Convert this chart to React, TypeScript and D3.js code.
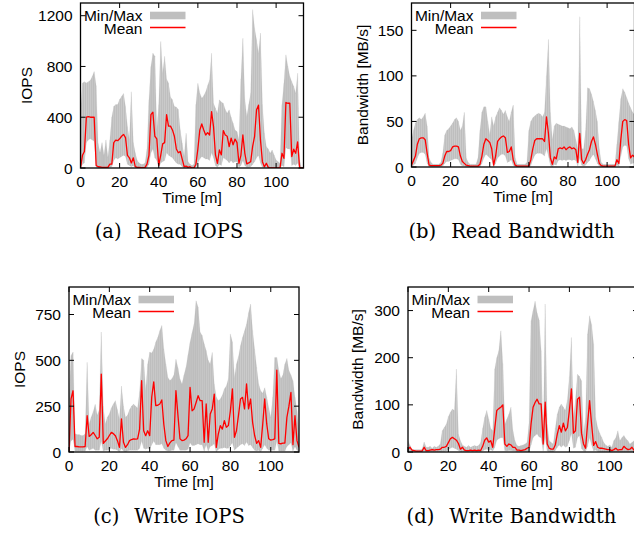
import React from "react";
import * as d3 from "d3";

// time axis in minutes, one sample per minute
const xTicks = [0, 20, 40, 60, 80, 100];
const xMax = 114;

// (a) Read IOPS
const readIopsMean = [
  0, 100, 130, 400, 405, 400, 400, 400, 20, 10,
  8, 5, 5, 5, 5, 30, 30, 200, 220, 215,
  230, 250, 265, 240, 100, 80, 40, 80, 10, 5,
  5, 3, 3, 5, 30, 100, 420, 440, 250, 230,
  20, 100, 190, 200, 420, 330, 330, 300, 250, 150,
  120, 130, 70, 10, 15, 5, 10, 0, 0, 30,
  150, 300, 347, 300, 260, 279, 260, 444, 326, 103,
  37, 142, 103, 295, 260, 250, 168, 236, 182, 228,
  200, 37, 100, 260, 116, 32, 40, 50, 170, 250,
  458, 495, 221, 50, 10, 37, 5, 0, 0, 0,
  0, 0, 0, 116, 76, 516, 510, 510, 90, 148,
  116, 205, 5, 0, 0,
];
const readIopsMax = [
  450, 670, 680, 670, 680, 690, 720, 760, 650, 195,
  120, 200, 100, 221, 80, 221, 400, 484, 500, 500,
  540, 563, 587, 484, 326, 221, 600, 200, 120, 60,
  40, 30, 30, 40, 150, 537, 800, 905, 880, 300,
  500, 997, 747, 880, 700, 670, 560, 537, 484, 480,
  460, 300, 195, 90, 274, 50, 30, 20, 30, 500,
  668, 589, 550, 570, 600, 650, 694, 905, 510, 470,
  431, 537, 520, 510, 460, 431, 458, 400, 352, 300,
  287, 221, 700, 1023, 537, 405, 500, 589, 1247, 1100,
  1010, 905, 1063, 500, 274, 168, 150, 116, 142, 100,
  63, 50, 37, 500, 668, 892, 800, 720, 680, 642,
  589, 747, 63, 0, 0,
];
const readIopsMin = [
  0, 30, 40, 200, 220, 230, 220, 210, 5, 0,
  0, 0, 0, 0, 0, 5, 10, 60, 80, 70,
  80, 90, 100, 90, 30, 20, 10, 20, 0, 0,
  0, 0, 0, 0, 5, 30, 120, 150, 80, 60,
  0, 40, 50, 60, 120, 100, 90, 80, 60, 40,
  30, 30, 10, 0, 0, 0, 0, 0, 0, 5,
  40, 70, 90, 80, 70, 70, 60, 120, 80, 20,
  5, 30, 20, 80, 70, 60, 40, 60, 40, 50,
  50, 5, 20, 60, 20, 5, 5, 10, 30, 50,
  80, 100, 40, 5, 0, 5, 0, 0, 0, 0,
  0, 0, 0, 20, 10, 160, 150, 150, 20, 30,
  20, 40, 0, 0, 0,
];

// (b) Read Bandwidth
const readBwMean = [
  2, 7, 12, 25, 31, 32, 32, 30, 15, 2,
  1.5, 1.5, 1.5, 1.5, 1.5, 2, 4, 12, 17, 17,
  18, 22, 23, 23, 22, 12, 6, 4, 2, 1.5,
  1, 1, 1, 1, 1, 3, 12, 25, 31, 29,
  27, 20, 2, 12, 28, 31, 33, 34, 32, 16,
  17, 22, 8, 2, 1, 1, 1, 1, 1, 1,
  1, 8, 20, 29, 31, 31, 31, 31, 28, 55,
  37, 10, 3, 11, 9, 20, 21, 20, 22, 19,
  21, 22, 20, 21, 19, 5, 37, 8, 4, 8,
  14, 19, 28, 33, 25, 14, 4, 1.5, 1, 1,
  1, 1, 1, 1, 1, 8, 4, 30, 50, 52,
  51, 25, 10, 13, 11,
];
const readBwMax = [
  30, 40, 48, 52, 54, 52, 55, 59, 45, 10,
  5, 3, 3, 3, 3, 5, 15, 35, 40, 42,
  45, 48, 52, 54, 50, 40, 45, 60, 10, 5,
  3, 3, 3, 3, 10, 40, 60, 66, 66, 50,
  35, 55, 45, 55, 60, 65, 62, 58, 62, 55,
  50, 60, 68, 10, 3, 3, 3, 3, 3, 5,
  40, 50, 54, 56, 58, 59, 58, 55, 60, 100,
  140, 60, 30, 45, 48, 47, 46, 45, 45, 44,
  43, 42, 44, 40, 30, 20, 165, 20, 20, 40,
  87, 86, 80, 72, 62, 50, 20, 5, 3, 3,
  3, 3, 3, 3, 3, 25, 50, 75, 86, 82,
  76, 70, 65, 60, 58,
];
const readBwMin = [
  0, 2, 4, 10, 15, 16, 16, 14, 4, 0,
  0, 0, 0, 0, 0, 0, 1, 4, 6, 6,
  7, 8, 9, 9, 8, 3, 1, 1, 0, 0,
  0, 0, 0, 0, 0, 0, 4, 10, 14, 12,
  10, 8, 0, 4, 10, 12, 14, 14, 12, 5,
  6, 8, 2, 0, 0, 0, 0, 0, 0, 0,
  0, 2, 8, 13, 15, 15, 15, 14, 12, 20,
  12, 2, 0, 3, 2, 7, 8, 7, 8, 7,
  8, 8, 7, 8, 7, 1, 10, 2, 1, 2,
  5, 7, 11, 14, 9, 4, 1, 0, 0, 0,
  0, 0, 0, 0, 0, 2, 1, 12, 22, 24,
  23, 9, 3, 4, 4,
];

// (c) Write IOPS
const writeIopsMean = [
  0, 290, 334, 30, 30, 28, 28, 28, 30, 198,
  85, 94, 107, 90, 72, 80, 425, 47, 60, 72,
  90, 107, 100, 89, 62, 25, 180, 53, 25, 40,
  62, 68, 72, 70, 72, 125, 389, 116, 89, 116,
  89, 300, 383, 253, 255, 262, 284, 150, 62, 30,
  50, 62, 65, 335, 200, 72, 62, 65, 72, 89,
  353, 225, 235, 270, 307, 280, 280, 53, 262, 53,
  207, 235, 316, 25, 98, 144, 125, 171, 135, 144,
  225, 344, 80, 116, 200, 289, 298, 235, 371, 235,
  289, 162, 90, 47, 62, 25, 150, 289, 153, 72,
  65, 68, 72, 447, 47, 45, 48, 49, 189, 250,
  325, 40, 198, 62, 25,
];
const writeIopsMax = [
  300, 526, 545, 100, 95, 95, 90, 90, 100, 489,
  153, 189, 220, 260, 200, 230, 655, 250, 153, 190,
  207, 240, 262, 280, 230, 180, 360, 250, 189, 200,
  230, 250, 262, 250, 240, 330, 510, 500, 334, 480,
  545, 540, 560, 600, 625, 662, 690, 560, 480, 407,
  390, 400, 420, 506, 460, 398, 371, 420, 462, 530,
  598, 650, 698, 825, 789, 653, 635, 590, 553, 500,
  480, 543, 371, 300, 280, 289, 310, 344, 360, 400,
  644, 600, 407, 480, 520, 580, 625, 660, 698, 760,
  807, 662, 560, 462, 371, 334, 320, 350, 300, 240,
  189, 300, 516, 516, 444, 400, 420, 480, 510, 444,
  420, 389, 300, 225, 98,
];
const writeIopsMin = [
  0, 60, 70, 5, 5, 5, 5, 5, 5, 30,
  10, 15, 20, 10, 10, 10, 60, 5, 10, 10,
  15, 20, 15, 15, 10, 0, 20, 5, 0, 5,
  10, 10, 10, 10, 10, 20, 60, 20, 15, 20,
  15, 40, 60, 40, 40, 40, 45, 20, 10, 5,
  5, 10, 10, 50, 30, 10, 10, 10, 10, 15,
  50, 35, 35, 40, 45, 40, 40, 5, 40, 5,
  30, 35, 45, 0, 15, 20, 20, 25, 20, 20,
  35, 50, 10, 20, 30, 40, 45, 35, 55, 35,
  40, 25, 10, 5, 10, 0, 20, 40, 20, 10,
  10, 10, 10, 60, 5, 5, 5, 5, 30, 40,
  50, 5, 30, 10, 0,
];

// (d) Write Bandwidth
const writeBwMean = [
  6, 10, 4, 3, 2, 2, 2, 2, 10, 3,
  3, 4, 5, 4, 5, 5, 6, 10, 10, 12,
  20, 28, 31, 28, 25, 18, 6, 10, 4, 3,
  3, 4, 3, 4, 3, 4, 3, 12, 25, 30,
  21, 24, 10, 50, 88, 92, 95, 100, 17, 12,
  17, 15, 10, 10, 4, 4, 3, 4, 5, 8,
  10, 60, 95, 105, 112, 102, 102, 17, 106, 17,
  8, 6, 6, 15, 38, 56, 42, 61, 45, 52,
  88, 134, 40, 45, 112, 116, 40, 17, 8, 59,
  109, 59, 14, 22, 10, 8, 8, 7, 6, 5,
  5, 3, 5, 8, 4, 5, 5, 12, 8, 5,
  6, 10, 4, 6, 8,
];
const writeBwMax = [
  24, 14, 6, 5, 5, 5, 5, 6, 21, 10,
  10, 12, 8, 12, 10, 12, 17, 45, 52, 59,
  75, 84, 91, 88, 176, 38, 24, 15, 12, 10,
  14, 10, 12, 14, 12, 14, 20, 50, 73, 88,
  70, 50, 45, 176, 200, 215, 257, 187, 59, 70,
  80, 95, 45, 24, 14, 12, 14, 15, 17, 20,
  60, 278, 300, 320, 295, 280, 215, 24, 314, 59,
  24, 20, 17, 50, 80, 95, 102, 95, 88, 110,
  160, 243, 73, 110, 165, 160, 151, 38, 73, 250,
  289, 270, 229, 73, 52, 40, 31, 20, 15, 12,
  15, 10, 24, 30, 45, 24, 30, 35, 28, 24,
  17, 20, 24, 20, 18,
];
const writeBwMin = [
  0, 2, 0, 0, 0, 0, 0, 0, 2, 0,
  0, 0, 0, 0, 0, 0, 0, 1, 1, 2,
  4, 8, 10, 8, 6, 3, 0, 0, 0, 0,
  0, 0, 0, 0, 0, 0, 0, 2, 5, 6,
  4, 5, 2, 10, 25, 28, 30, 30, 3, 2,
  3, 3, 2, 2, 0, 0, 0, 0, 0, 0,
  0, 15, 30, 35, 38, 32, 30, 2, 30, 2,
  0, 0, 0, 3, 10, 15, 10, 15, 10, 12,
  25, 40, 8, 10, 30, 35, 8, 2, 1, 12,
  30, 15, 2, 4, 1, 0, 0, 0, 0, 0,
  0, 0, 0, 0, 0, 0, 0, 0, 0, 0,
  0, 0, 0, 0, 0,
];

const SANS = "'Liberation Sans', Arial, Helvetica, sans-serif";
const SERIF = "'DejaVu Serif', serif";
const BAND = "#bfbfbf";
const RED = "#ff0000";

function Panel(props: any) {
  const { id, left, right, top, bottom, yMax, yTicks, mean, lo, hi, ylabel, ylabelX } = props;
  const x = d3.scaleLinear().domain([0, xMax]).range([left, right]);
  const y = d3.scaleLinear().domain([0, yMax]).range([bottom, top]);
  const idx = d3.range(mean.length);

  // each minute drawn as its own piece, like gnuplot's filledcurves
  const band = d3
    .area<number>()
    .x((i) => x(i))
    .y0((i) => y(lo[i]))
    .y1((i) => y(hi[i]));
  const line = d3
    .line<number>()
    .x((i) => x(i))
    .y((i) => y(mean[i]));

  const tk = 5;
  return (
    <g>
      <defs>
        <clipPath id={"clip-" + id}>
          <rect x={left} y={top} width={right - left} height={bottom - top} />
        </clipPath>
      </defs>
      <g clipPath={`url(#clip-${id})`}>
        {idx.slice(0, -1).map((i) => (
          <path key={i} d={band([i, i + 1]) || ""} fill={BAND} stroke={BAND} strokeWidth={0.15} />
        ))}
        <path d={line(idx) || ""} fill="none" stroke={RED} strokeWidth={1.3} strokeLinejoin="round" />
      </g>

      {/* legend */}
      <text x={left + 62} y={top + 18.3} textAnchor="end" fontFamily={SANS} fontSize={15.5}>
        Min/Max
      </text>
      <text x={left + 62} y={top + 30.7} textAnchor="end" fontFamily={SANS} fontSize={15.5}>
        Mean
      </text>
      <rect x={left + 69.5} y={top + 8.7} width={35.5} height={7.6} fill={BAND} />
      <line x1={left + 69.5} x2={left + 105} y1={top + 24.5} y2={top + 24.5} stroke={RED} strokeWidth={1.5} />

      {/* frame and ticks */}
      <rect x={left} y={top} width={right - left} height={bottom - top} fill="none" stroke="#000" strokeWidth={1.3} />
      {yTicks.map((v: number) => (
        <g key={"y" + v}>
          <line x1={left} x2={left + tk} y1={y(v)} y2={y(v)} stroke="#000" />
          <line x1={right - tk} x2={right} y1={y(v)} y2={y(v)} stroke="#000" />
          <text x={left - 8} y={y(v) + 5.5} textAnchor="end" fontFamily={SANS} fontSize={15.5}>
            {v}
          </text>
        </g>
      ))}
      {xTicks.map((v) => (
        <g key={"x" + v}>
          <line x1={x(v)} x2={x(v)} y1={bottom} y2={bottom - tk} stroke="#000" />
          <line x1={x(v)} x2={x(v)} y1={top} y2={top + tk} stroke="#000" />
          <text x={x(v)} y={bottom + 18.5} textAnchor="middle" fontFamily={SANS} fontSize={15.5}>
            {v}
          </text>
        </g>
      ))}
      <text x={(left + right) / 2} y={bottom + 34.5} textAnchor="middle" fontFamily={SANS} fontSize={15.5}>
        Time [m]
      </text>
      <text
        transform={`translate(${ylabelX},${(top + bottom) / 2}) rotate(-90)`}
        textAnchor="middle"
        fontFamily={SANS}
        fontSize={15.5}
      >
        {ylabel}
      </text>
    </g>
  );
}

function Caption({ cx, cy, tag, title }: any) {
  return (
    <text x={cx} y={cy} textAnchor="middle" fontFamily={SERIF} fontSize={19.5}>
      <tspan>{tag}</tspan>
      <tspan dx={15}>{title}</tspan>
    </text>
  );
}

export default function App() {
  return (
    <svg
      width={634}
      height={533}
      style={{ position: "absolute", left: 0, top: 0, background: "#fff" }}
    >
      <rect width={634} height={533} fill="#fff" />
      <Panel
        id="a"
        left={80.5}
        right={303.5}
        top={3}
        bottom={168}
        yMax={1300}
        yTicks={[0, 400, 800, 1200]}
        mean={readIopsMean}
        lo={readIopsMin}
        hi={readIopsMax}
        ylabel="IOPS"
        ylabelX={31.5}
      />
      <Panel
        id="b"
        left={411.5}
        right={634.5}
        top={3}
        bottom={167}
        yMax={180}
        yTicks={[0, 50, 100, 150]}
        mean={readBwMean}
        lo={readBwMin}
        hi={readBwMax}
        ylabel="Bandwidth [MB/s]"
        ylabelX={367.5}
      />
      <Panel
        id="c"
        left={69}
        right={299}
        top={287}
        bottom={452}
        yMax={900}
        yTicks={[0, 250, 500, 750]}
        mean={writeIopsMean}
        lo={writeIopsMin}
        hi={writeIopsMax}
        ylabel="IOPS"
        ylabelX={25}
      />
      <Panel
        id="d"
        left={408}
        right={638}
        top={287}
        bottom={452}
        yMax={350}
        yTicks={[0, 100, 200, 300]}
        mean={writeBwMean}
        lo={writeBwMin}
        hi={writeBwMax}
        ylabel="Bandwidth [MB/s]"
        ylabelX={362.5}
      />
      <Caption cx={169} cy={238} tag="(a)" title="Read IOPS" />
      <Caption cx={511.5} cy={238} tag="(b)" title="Read Bandwidth" />
      <Caption cx={169} cy={523} tag="(c)" title="Write IOPS" />
      <Caption cx={511.5} cy={523} tag="(d)" title="Write Bandwidth" />
    </svg>
  );
}
